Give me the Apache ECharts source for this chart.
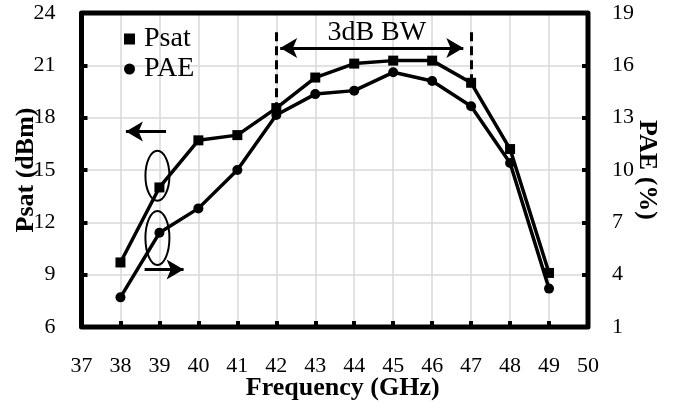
<!DOCTYPE html>
<html>
<head>
<meta charset="utf-8">
<script src="https://cdn.jsdelivr.net/npm/echarts@6/dist/echarts.min.js"></script>
<style>
  html, body { margin: 0; padding: 0; background: #fff; }
  #chart { width: 684px; height: 403px; }
</style>
</head>
<body>
<div id="chart"></div>
<script>
// frequency points (GHz)
const freq = [38, 39, 40, 41, 42, 43, 44, 45, 46, 47, 48, 49];
// saturated output power, dBm (left axis)
const psat = [9.7, 14.0, 16.7, 17.0, 18.55, 20.3, 21.1, 21.27, 21.27, 20.0, 16.2, 9.1];
// power added efficiency, % (right axis)
const pae = [2.7, 6.4, 7.8, 10.0, 13.15, 14.35, 14.55, 15.6, 15.1, 13.65, 10.4, 3.2];

const serif = 'Liberation Serif';
let chart = echarts.init(document.getElementById('chart'));

const arrowLine = (from, to, sym) => ({
  symbol: sym,
  symbolSize: [15, 17],
  lineStyle: { type: 'solid', width: 3, color: '#000' },
  data: [[{ coord: from }, { coord: to }]]
});

let option = {
  animation: false,
  grid: { left: 81.5, right: 96, top: 13, bottom: 76, containLabel: false, outerBoundsMode: 'none' },
  legend: {
    orient: 'vertical',
    left: 119, top: 20,
    itemWidth: 11, itemHeight: 11,
    itemGap: 2,
    textStyle: { fontFamily: serif, fontSize: 28, color: '#000', padding: [0, 0, 0, 4] },
    data: [{ name: 'Psat', icon: 'rect' }, { name: 'PAE', icon: 'circle' }]
  },
  xAxis: {
    type: 'value', min: 37, max: 50, interval: 1,
    name: 'Frequency (GHz)', nameLocation: 'middle', nameGap: 48, nameMoveOverlap: false,
    nameTextStyle: { fontFamily: serif, fontSize: 26, fontWeight: 'bold', color: '#000', padding: [0, 0, 0, 16] },
    axisLine: { show: false },
    axisTick: { inside: true, length: 6, lineStyle: { color: '#000', width: 4 } },
    axisLabel: { fontFamily: serif, fontSize: 22, color: '#000', margin: 28 },
    splitLine: { lineStyle: { color: '#d9d9d9', width: 1.5 } }
  },
  yAxis: [{
    type: 'value', min: 6, max: 24, interval: 3,
    name: 'Psat (dBm)', nameLocation: 'middle', nameGap: 42, nameMoveOverlap: false,
    nameTextStyle: { fontFamily: serif, fontSize: 26, fontWeight: 'bold', color: '#000' },
    axisLine: { show: false },
    axisTick: { show: true, inside: true, length: 6, lineStyle: { color: '#000', width: 4 } },
    axisLabel: { fontFamily: serif, fontSize: 22, color: '#000', margin: 26 },
    splitLine: { lineStyle: { color: '#d9d9d9', width: 1.5 } }
  }, {
    type: 'value', min: 1, max: 19, interval: 3, position: 'right',
    name: 'PAE (%)', nameLocation: 'middle', nameGap: 46, nameRotate: -90, nameMoveOverlap: false,
    nameTextStyle: { fontFamily: serif, fontSize: 26, fontWeight: 'bold', color: '#000' },
    axisLine: { show: false },
    axisTick: { show: true, inside: true, length: 6, lineStyle: { color: '#000', width: 4 } },
    axisLabel: { fontFamily: serif, fontSize: 22, color: '#000', margin: 24 },
    splitLine: { show: false }
  }],
  series: [{
    name: 'Psat', type: 'line', yAxisIndex: 0,
    data: freq.map((f, i) => [f, psat[i]]),
    symbol: 'rect', symbolSize: 10,
    itemStyle: { color: '#000' },
    lineStyle: { color: '#000', width: 3.5 },
    markLine: {
      silent: true, animation: false,
      symbol: 'none',
      label: { show: false },
      lineStyle: { type: [9, 5], width: 3, color: '#000' },
      data: [
        [{ coord: [42, 22.9] }, { coord: [42, 18.2] }],
        [{ coord: [47, 22.9] }, { coord: [47, 20.0] }]
      ]
    }
  }, {
    name: 'PAE', type: 'line', yAxisIndex: 1,
    data: freq.map((f, i) => [f, pae[i]]),
    symbol: 'circle', symbolSize: 10,
    itemStyle: { color: '#000' },
    lineStyle: { color: '#000', width: 3.5 }
  }, {
    // annotation arrows
    type: 'line', yAxisIndex: 0, data: [], silent: true,
    markLine: Object.assign({ silent: true, animation: false, label: { show: false } },
      arrowLine([42.1, 22.0], [46.8, 22.0], ['arrow', 'arrow']))
  }, {
    type: 'line', yAxisIndex: 0, data: [], silent: true,
    markLine: Object.assign({ silent: true, animation: false, label: { show: false } },
      arrowLine([38.14, 17.2], [39.17, 17.2], ['arrow', 'none']))
  }, {
    type: 'line', yAxisIndex: 0, data: [], silent: true,
    markLine: Object.assign({ silent: true, animation: false, label: { show: false } },
      arrowLine([38.62, 9.3], [39.62, 9.3], ['none', 'arrow']))
  }]
};
chart.setOption(option);

// frame, ellipses around the 39 GHz points and the bandwidth label
const tl = chart.convertToPixel({ xAxisIndex: 0, yAxisIndex: 0 }, [37, 24]);
const br = chart.convertToPixel({ xAxisIndex: 0, yAxisIndex: 0 }, [50, 6]);
const p1 = chart.convertToPixel({ xAxisIndex: 0, yAxisIndex: 0 }, [39, 14.67]);
const p2 = chart.convertToPixel({ xAxisIndex: 0, yAxisIndex: 0 }, [39, 11.1]);
const t = chart.convertToPixel({ xAxisIndex: 0, yAxisIndex: 0 }, [44.58, 22.85]);
chart.setOption({
  graphic: [
    { type: 'rect', shape: { x: tl[0], y: tl[1], width: br[0] - tl[0], height: br[1] - tl[1] },
      style: { fill: 'none', stroke: '#000', lineWidth: 5, lineJoin: 'round' }, z: 100 },
    { type: 'ellipse', shape: { cx: p1[0] - 2, cy: p1[1], rx: 12, ry: 25 },
      style: { fill: 'none', stroke: '#000', lineWidth: 2 }, z: 100 },
    { type: 'ellipse', shape: { cx: p2[0] - 2, cy: p2[1], rx: 12, ry: 27 },
      style: { fill: 'none', stroke: '#000', lineWidth: 2 }, z: 100 },
    { type: 'text', x: t[0], y: t[1],
      style: { text: '3dB BW', font: '28px "Liberation Serif"', fill: '#000', align: 'center', verticalAlign: 'middle' }, z: 100 }
  ]
});
</script>
</body>
</html>
